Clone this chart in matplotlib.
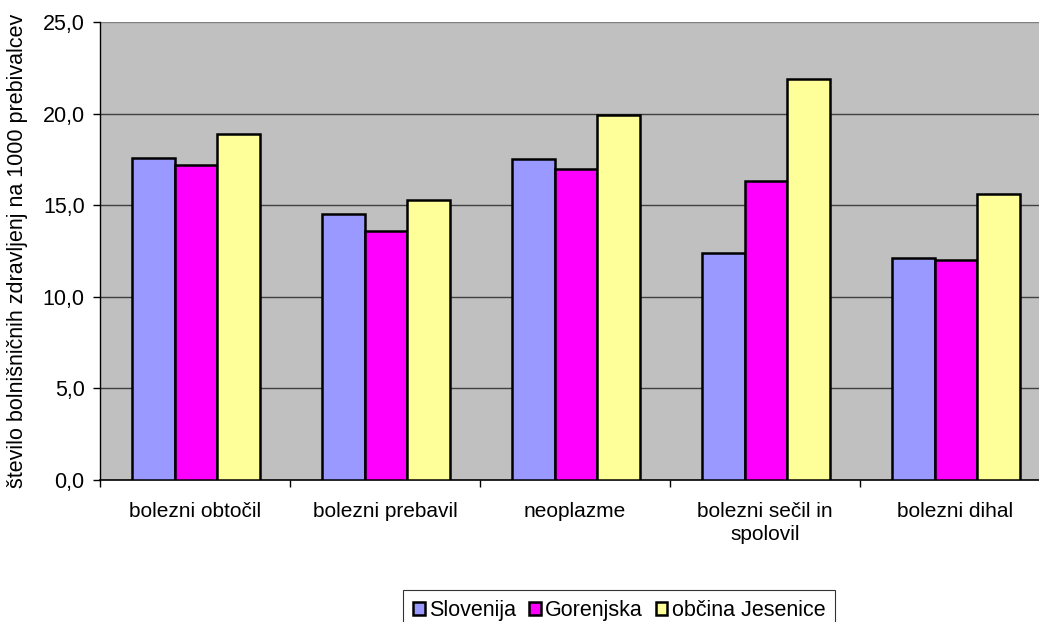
import matplotlib.pyplot as plt
import numpy as np

plt.rcParams['font.family'] = ['Liberation Sans', 'DejaVu Sans']

categories = ["bolezni obtočil", "bolezni prebavil", "neoplazme",
              "bolezni sečil in\nspolovil", "bolezni dihal"]
slovenija = [17.6, 14.5, 17.5, 12.4, 12.1]
gorenjska = [17.2, 13.6, 17.0, 16.3, 12.0]
jesenice = [18.9, 15.3, 19.9, 21.9, 15.6]
series_names = ["Slovenija", "Gorenjska", "občina Jesenice"]
colors = ["#9999FF", "#FF00FF", "#FFFF99"]
y_ticks = [0, 5, 10, 15, 20, 25]

fig = plt.figure(figsize=(10.39, 6.22), dpi=100)
ax = fig.add_axes([100 / 1039, 1 - 480 / 622, 950 / 1039, 458 / 622])
ax.set_facecolor("#C0C0C0")

x = np.arange(len(categories))
w = 0.224
for i, (vals, name, col) in enumerate(zip([slovenija, gorenjska, jesenice], series_names, colors)):
    ax.bar(x + (i - 1) * w + 0.005, vals, width=w, color=col, edgecolor="black",
           linewidth=1.8, label=name, zorder=3)

ax.set_xlim(-0.5, len(categories) - 0.5)
ax.set_ylim(0, 25)
ax.set_yticks(y_ticks)
ax.set_yticklabels([f"{v:.1f}".replace(".", ",") for v in y_ticks], fontsize=15.5)
for v in y_ticks[1:]:
    ax.axhline(v, color="#404040" if v < 25 else "#808080", linewidth=1.0, zorder=1)

ax.set_xticks(x)
ax.set_xticklabels(categories, fontsize=15, linespacing=1.25)
ax.set_xticks(np.arange(len(categories) + 1) - 0.5, minor=True)
ax.tick_params(axis="x", which="major", length=0, pad=16)
ax.tick_params(axis="x", which="minor", length=5, width=1, direction="out")
ax.tick_params(axis="y", length=5, width=1, direction="out", pad=6)

for s in ["top", "right"]:
    ax.spines[s].set_visible(False)
ax.spines["left"].set_linewidth(1.0)
ax.spines["bottom"].set_linewidth(1.2)

ax.set_ylabel("število bolnišničnih zdravljenj na 1000 prebivalcev", fontsize=15.5)
ax.yaxis.set_label_coords(-72 / 950, 0.5)

leg = fig.legend(loc="upper left", bbox_to_anchor=(403 / 1039, 1 - 590 / 622), ncol=3,
                 fontsize=15.5, frameon=True, fancybox=False, handlelength=0.55,
                 handleheight=0.55, handletextpad=0.2, columnspacing=0.6,
                 borderpad=0.45, borderaxespad=0)
leg.get_frame().set_edgecolor("black")
leg.get_frame().set_linewidth(0.8)
for h in leg.legend_handles:
    h.set_linewidth(1.8)

fig.savefig("out.png", dpi=100)
